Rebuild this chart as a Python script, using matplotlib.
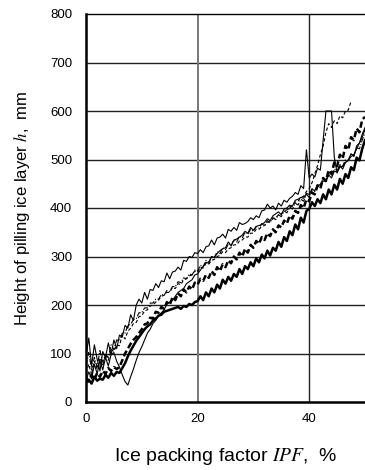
import numpy as np
import matplotlib
matplotlib.use("Agg")
import matplotlib.pyplot as plt

plt.rcParams['font.family'] = ['Liberation Sans', 'DejaVu Sans']
plt.rcParams['mathtext.fontset'] = 'stix'

ipf = np.arange(0, 50.01, 0.5)

run_a = [95, 132, 75, 118, 88, 64, 104, 92, 122, 98, 128, 110, 138, 134, 158, 152, 180, 168, 200, 212,
         204, 226, 212, 232, 230, 244, 236, 250, 248, 266, 254, 268, 270, 278, 272, 292, 290, 300, 298, 308,
         306, 314, 308, 320, 322, 334, 324, 338, 340, 346, 338, 356, 352, 360, 354, 370, 366, 368, 372, 380,
         376, 384, 380, 394, 396, 408, 400, 404, 396, 410, 404, 416, 412, 420, 424, 432, 428, 446, 440, 520,
         462, 470, 464, 482, 478, 540, 600, 600, 600, 505, 472, 488, 480, 494, 498, 512, 506, 528, 534, 552,
         566]

run_b = [60, 78, 56, 84, 68, 88, 74, 98, 86, 108, 104, 118, 116, 138, 130, 146, 152, 162, 164, 176,
         178, 188, 190, 198, 200, 206, 210, 218, 220, 226, 226, 236, 234, 244, 242, 252, 254, 260, 262, 270,
         268, 278, 276, 286, 284, 292, 294, 300, 302, 310, 308, 316, 318, 324, 324, 332, 334, 340, 340, 348,
         348, 356, 356, 362, 364, 370, 372, 378, 380, 386, 388, 394, 396, 402, 404, 412, 414, 422, 424, 434,
         440, 452, 470, 488, 510, 528, 556, 574, 566, 580, 574, 590, 586, 600, 602, 620,
         np.nan, np.nan, np.nan, np.nan, np.nan]

run_c = [45, 62, 48, 78, 58, 86, 66, 92, 74, 98, 102, 84, 72, 56, 42, 35, 52, 68, 86, 102,
         114, 128, 142, 150, 162, 168, 178, 184, 190, 202, 206, 210, 218, 226, 230, 234, 244, 248, 252, 262,
         264, 272, 280, 288, 286, 300, 298, 306, 312, 316, 318, 330, 322, 334, 336, 340, 344, 352, 348, 360,
         354, 362, 364, 366, 370, 378, 374, 384, 388, 392, 386, 398, 400, 406, 404, 416, 418, 422, 420, 430,
         428, 438, 436, 446, 448, 456, 454, 468, 462, 476, 474, 484, 486, 494, 498, 506, 510, 522, 534, 546,
         562]

run_d = [40, 46, 38, 52, 44, 48, 46, 56, 50, 60, 54, 62, 60, 70, 80, 94, 106, 116, 126, 134,
         142, 150, 156, 160, 168, 172, 178, 180, 186, 188, 190, 192, 194, 196, 192, 198, 196, 202, 200, 206,
         208, 218, 210, 226, 218, 234, 226, 242, 234, 252, 244, 258, 250, 264, 258, 274, 264, 280, 274, 288,
         280, 296, 288, 304, 296, 312, 302, 318, 312, 330, 320, 340, 332, 352, 344, 366, 356, 380, 370, 394,
         398, 412, 404, 418, 410, 428, 418, 438, 428, 448, 438, 460, 450, 470, 462, 484, 478, 504, 498, 522,
         540]

run_e = [50, 42, 56, 46, 60, 52, 64, 58, 70, 64, 72, 68, 72, 86, 100, 110, 120, 128, 134, 142,
         150, 160, 162, 174, 172, 186, 184, 196, 192, 206, 200, 216, 210, 224, 218, 232, 226, 238, 232, 246,
         242, 254, 250, 262, 256, 270, 262, 278, 270, 284, 278, 292, 286, 300, 294, 308, 300, 316, 308, 324,
         318, 332, 326, 340, 334, 348, 342, 356, 350, 364, 360, 374, 368, 384, 378, 394, 390, 406, 400, 418,
         414, 432, 428, 446, 440, 462, 456, 478, 470, 494, 486, 510, 502, 528, 520, 546, 540, 564, 556, 582,
         588]

run_f = [75, 102, 66, 92, 72, 106, 82, 98, 92, 118, 108, 128, 126, 142, 142, 158, 160, 170, 172, 184,
         184, 194, 194, 204, 204, 212, 212, 222, 220, 230, 228, 238, 238, 248, 246, 256, 254, 264, 262, 272,
         270, 282, 278, 292, 288, 300, 298, 310, 306, 318, 314, 326, 322, 334, 330, 342, 338, 350, 346, 356,
         352, 362, 358, 368, 364, 374, 370, 380, 376, 386, 382, 394, 390, 402, 398, 410, 406, 418, 414, 428,
         422, 440, 434, 450, 446, 462, 458, 470, 468, 480, 476, 490, 486, 500, 498, 512, 508, 524, 522, 540,
         555]

x_ticks = [0, 20, 40]
y_ticks = [0, 100, 200, 300, 400, 500, 600, 700, 800]

fig = plt.figure(figsize=(3.65, 4.70), dpi=100)
ax = fig.add_axes([86/365, 68/470, 279/365, 388/470])

ax.plot(ipf, run_a, color='black', lw=0.8)
ax.plot(ipf, run_b, color='black', lw=0.8, dashes=(3, 2))
ax.plot(ipf, run_c, color='black', lw=0.8)
ax.plot(ipf, run_f, color='black', lw=0.8, dashes=(5, 1.5, 1, 1.5))
ax.plot(ipf, run_e, color='black', lw=1.8, dashes=(2.5, 1.2))
ax.plot(ipf, run_d, color='black', lw=1.8)

ax.set_xlim(0, 50)
ax.set_ylim(0, 800)
ax.set_xticks(x_ticks)
ax.set_yticks(y_ticks)
ax.tick_params(length=0, labelsize=9.5)
ax.tick_params(axis='x', pad=8)
ax.tick_params(axis='y', pad=10)

for y in y_ticks[1:-1]:
    ax.axhline(y, color='#222222', lw=1.0, zorder=0)
ax.axvline(20, color='#777777', lw=1.4, zorder=0)
ax.axvline(40, color='#222222', lw=1.0, zorder=0)

ax.spines['right'].set_visible(False)
ax.spines['left'].set_linewidth(1.8)
ax.spines['bottom'].set_linewidth(1.8)
ax.spines['top'].set_linewidth(1.0)

ax.set_ylabel('Height of pilling ice layer $h$,  mm', fontsize=12, labelpad=13)
ax.set_xlabel('Ice packing factor $IPF$,  %', fontsize=14, labelpad=15)

fig.savefig('out.png', dpi=100)
